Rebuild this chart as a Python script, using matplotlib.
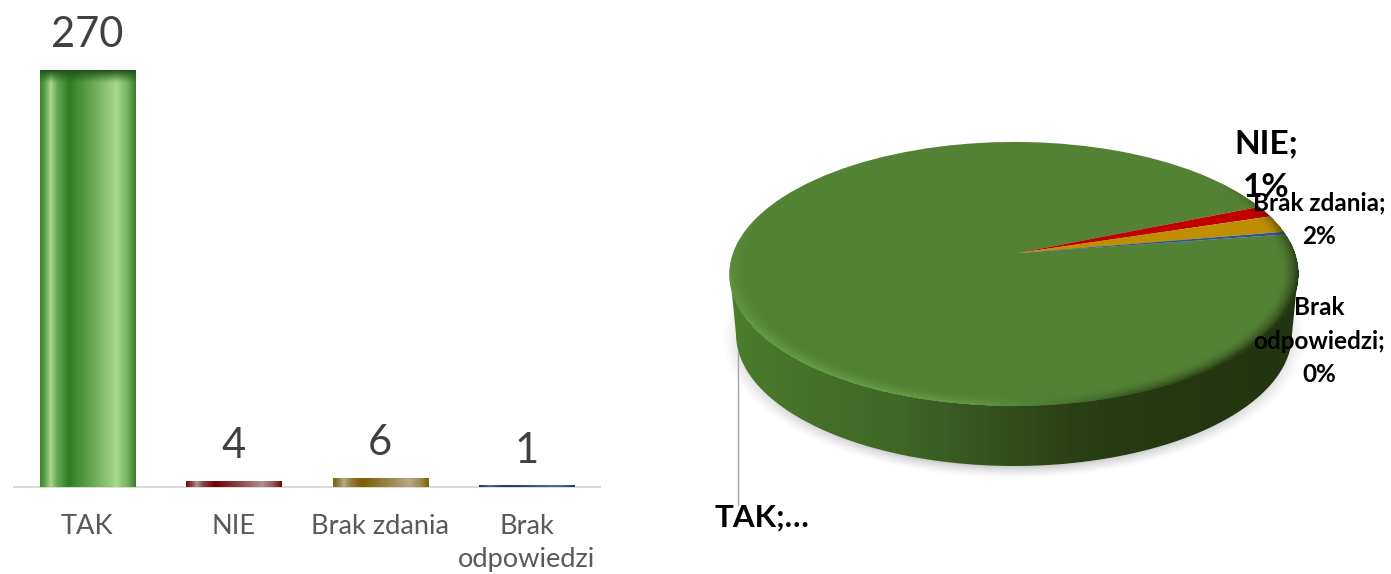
import numpy as np
import matplotlib
matplotlib.use("Agg")
import matplotlib.pyplot as plt
from matplotlib.colors import LinearSegmentedColormap, to_rgb
from matplotlib.patches import PathPatch
from matplotlib.path import Path
from matplotlib.transforms import Transform

# ---- data ----
categories = ["TAK", "NIE", "Brak zdania", "Brak\nodpowiedzi"]
values = [270, 4, 6, 1]
pie_colors = ["#548235", "#c00000", "#bf8f00", "#2f5597"]
bar_dark = ["#2f7d22", "#6e0000", "#7a5c00", "#1f3864"]
bar_light = ["#a8d88c", "#b09090", "#b8a888", "#5070a0"]

W, H = 1391, 574
plt.rcParams["font.family"] = ["Lato", "DejaVu Sans"]
fig = plt.figure(figsize=(W / 100, H / 100), dpi=100)

# ---- bar chart ----
BASE, TOP, L, R = 487, 70, 14, 600
ax = fig.add_axes([L / W, 1 - BASE / H, (R - L) / W, (BASE - TOP) / H])
x = np.arange(len(values))
bars = ax.bar(x, values, width=0.65, color=bar_dark, linewidth=0, zorder=2)
stops = [0, .05, .11, .18, .30, .56, .80, .91, 1]
for b, dk, lt in zip(bars, bar_dark, bar_light):
    d, l = np.array(to_rgb(dk)), np.array(to_rgb(lt))
    mix = [.1, .4, 1, .45, 0, .5, 1, .6, .05]
    cm = LinearSegmentedColormap.from_list(
        "g", [(s, tuple(d * (1 - m) + l * m)) for s, m in zip(stops, mix)])
    grad = cm(np.linspace(0, 1, 200))[None, :, :3]
    hpx = b.get_height() / values[0] * (BASE - TOP)
    if hpx > 50:
        n = 400
        img = np.repeat(grad, n, axis=0)
        shade = np.clip(np.arange(n) / (n * 12 / hpx), 0, 1)[:, None, None]
        dark = np.array(to_rgb("#1f5518"))
        img = img * shade + dark * (1 - shade)
    else:
        img = grad
    im = ax.imshow(img, extent=(b.get_x(), b.get_x() + b.get_width(), 0, b.get_height()),
                   aspect="auto", origin="upper", zorder=3, interpolation="bilinear")
    im.set_clip_path(b)
    ax.annotate(str(b.get_height()), (b.get_x() + b.get_width() / 2, b.get_height()),
                xytext=(0, 16.5), textcoords="offset points", ha="center", va="baseline",
                fontsize=30, color="#404040", annotation_clip=False)
ax.set_xlim(-0.5, 3.5)
ax.set_ylim(0, values[0])
ax.set_yticks([])
ax.set_xticks(x, categories, fontsize=19.6, color="#595959", linespacing=1.4)
ax.tick_params(axis="x", length=0, pad=19.5)
for s in ("top", "left", "right"):
    ax.spines[s].set_visible(False)
ax.spines["bottom"].set_color("#d9d9d9")
ax.spines["bottom"].set_linewidth(1.5)
ax.patch.set_alpha(0)

# ---- 3D pie ----
ap = fig.add_axes([0, 0, 1, 1], zorder=-1)
AX, AY = 1018, 253
k, m = 0.159, 0.014
A, B = 128.7, 281.0


class Persp(Transform):
    input_dims = output_dims = 2
    is_affine = False

    def transform_non_affine(self, pts):
        pts = np.asarray(pts)
        u, v = pts[:, 0], pts[:, 1]
        w = 1 + k * v + m * u
        return np.column_stack([AX + B * u / w, AY - A * v / w])


wedges, _ = ap.pie(values, colors=pie_colors, startangle=8.6, counterclock=False,
                   wedgeprops=dict(linewidth=0))
for wd in wedges:
    wd.set_transform(Persp() + ap.transData)
    wd.set_zorder(3)
    wd.set_clip_on(False)

yy, xx = np.mgrid[0:H, 0:W] + 0.5
# soft shadow
rho = np.hypot((xx - 1014) / 293, (yy - 338) / 141)
sh = np.zeros((H, W, 4))
sh[..., :3] = 0.55
sh[..., 3] = 0.45 * np.clip((1.0 - rho) / 0.09, 0, 1) ** 1.5
ap.imshow(sh, extent=(0, W, H, 0), aspect="auto", zorder=1, interpolation="bilinear")

# side wall
th = np.linspace(np.pi, 0, 200)
wx = 1014 + 278 * np.cos(th)
wy = 334 + 132 * np.sin(th)
verts = np.vstack([[[730, 274]], np.column_stack([wx, wy]), [[1298, 274]], [[730, 274]]])
wall = PathPatch(Path(verts), fc="none", ec="none", zorder=2)
ap.add_patch(wall)
wall_cm = LinearSegmentedColormap.from_list(
    "w", [(0, "#4c7c2e"), (.15, "#457029"), (.30, "#3f6725"), (.45, "#355420"),
          (.60, "#2a4116"), (.75, "#253812"), (1, "#233510")])
gr = ap.imshow(np.linspace(0, 1, 300)[None, :], cmap=wall_cm, extent=(730, 1298, 480, 260),
               aspect="auto", zorder=2, interpolation="bilinear")
gr.set_clip_path(wall)

# bevel along the rim of the top face
X, Y = xx - AX, AY - yy
w_ = 1 / (1 - k * Y / A - m * X / B)
u_, v_ = X * w_ / B, Y * w_ / A
r_ = np.hypot(u_, v_)
phi = np.arctan2(v_, u_)
t = np.clip((r_ - 0.93) / 0.07, 0, 1) * (r_ <= 1.0)
light = np.clip(np.cos(phi + np.radians(125)), 0, 1) ** 2
darkm = np.clip((np.cos(phi + np.radians(30)) - 0.4) / 0.6, 0, 1)
bev = np.zeros((H, W, 4))
lc, dc = np.array(to_rgb("#6aa64e")), np.array(to_rgb("#1c2c0c"))
la, da = 0.8 * t ** 2 * light, 0.95 * t ** 2 * darkm
a_tot = np.clip(la + da, 0, 1)
mixw = la / np.maximum(la + da, 1e-6)
bev[..., :3] = mixw[..., None] * lc + (1 - mixw[..., None]) * dc
bev[..., 3] = a_tot
ap.imshow(bev, extent=(0, W, H, 0), aspect="auto", zorder=4, interpolation="bilinear")

ap.plot([738, 738], [352, 505], color="#a6a6a6", lw=1, zorder=5)

ap.set_aspect("auto")
ap.set_xlim(0, W)
ap.set_ylim(H, 0)
ap.axis("off")
ap.patch.set_alpha(0)

lab = dict(fontweight="bold", color="black", zorder=6, ha="center", va="baseline")
ap.text(1266, 197, "NIE;\n1%", fontsize=24, linespacing=1.6, **lab)
ap.text(1319, 244, "Brak zdania;\n2%", fontsize=17.5, linespacing=1.55, **lab)
ap.text(1319, 382, "Brak\nodpowiedzi;\n0%", fontsize=17.5, linespacing=1.55, **lab)
ap.text(762, 527, "TAK;…", fontsize=22.5, **lab)

fig.savefig("out.png", dpi=100)
